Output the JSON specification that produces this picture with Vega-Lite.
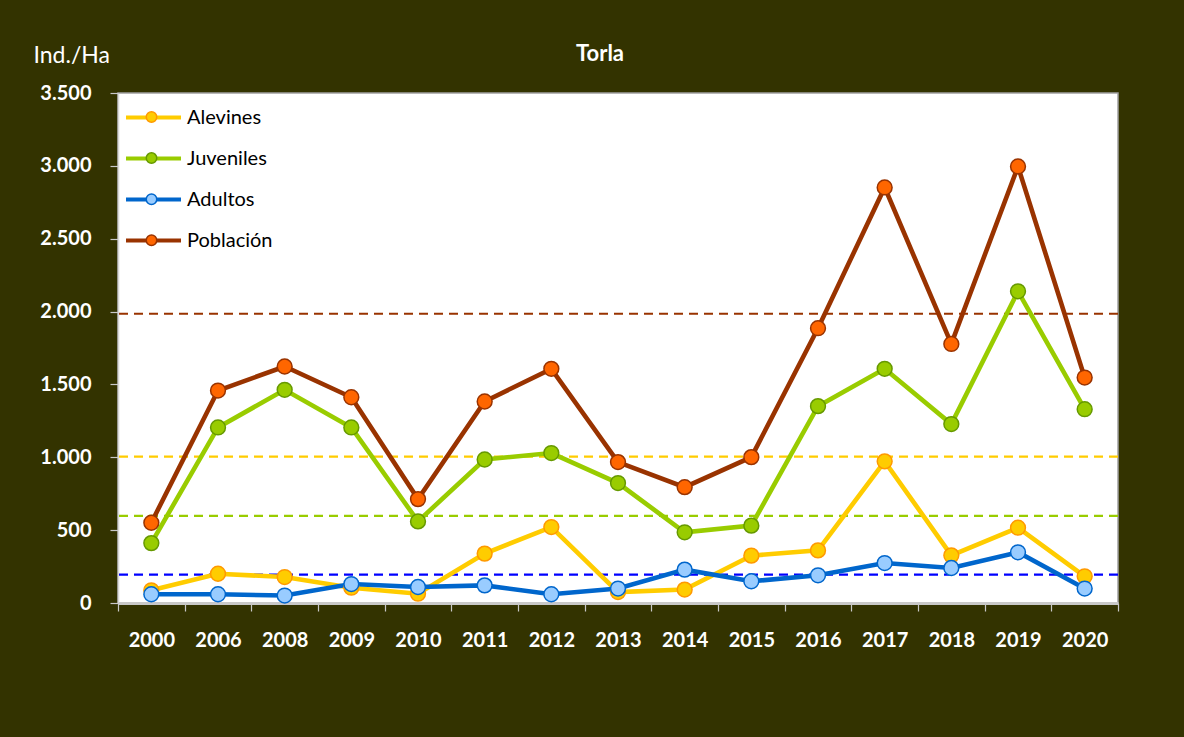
{
  "$schema": "https://vega.github.io/schema/vega-lite/v6.json",
  "autosize": {"type": "none"},
  "width": 1000,
  "height": 510,
  "padding": {"left": 118, "top": 93, "right": 66, "bottom": 134},
  "background": "#333300",
  "config": {
    "font": "Lato",
    "view": {"fill": "white", "stroke": "#A0A0A0", "strokeWidth": 1.5}
  },
  "title": {"text": "Torla", "color": "white", "font": "Lato", "fontSize": 22, "fontWeight": "bold", "anchor": "middle", "dx": -18, "offset": -22},
  "datasets": {
    "series": [
      {"year": "2000", "serie": "Alevines", "value": 87},
      {"year": "2006", "serie": "Alevines", "value": 201},
      {"year": "2008", "serie": "Alevines", "value": 178},
      {"year": "2009", "serie": "Alevines", "value": 105},
      {"year": "2010", "serie": "Alevines", "value": 64},
      {"year": "2011", "serie": "Alevines", "value": 339},
      {"year": "2012", "serie": "Alevines", "value": 521},
      {"year": "2013", "serie": "Alevines", "value": 75},
      {"year": "2014", "serie": "Alevines", "value": 92},
      {"year": "2015", "serie": "Alevines", "value": 325},
      {"year": "2016", "serie": "Alevines", "value": 361},
      {"year": "2017", "serie": "Alevines", "value": 972},
      {"year": "2018", "serie": "Alevines", "value": 327},
      {"year": "2019", "serie": "Alevines", "value": 517},
      {"year": "2020", "serie": "Alevines", "value": 183},
      {"year": "2000", "serie": "Juveniles", "value": 411},
      {"year": "2006", "serie": "Juveniles", "value": 1205},
      {"year": "2008", "serie": "Juveniles", "value": 1463},
      {"year": "2009", "serie": "Juveniles", "value": 1205},
      {"year": "2010", "serie": "Juveniles", "value": 560},
      {"year": "2011", "serie": "Juveniles", "value": 985},
      {"year": "2012", "serie": "Juveniles", "value": 1029},
      {"year": "2013", "serie": "Juveniles", "value": 823},
      {"year": "2014", "serie": "Juveniles", "value": 485},
      {"year": "2015", "serie": "Juveniles", "value": 531},
      {"year": "2016", "serie": "Juveniles", "value": 1351},
      {"year": "2017", "serie": "Juveniles", "value": 1607},
      {"year": "2018", "serie": "Juveniles", "value": 1228},
      {"year": "2019", "serie": "Juveniles", "value": 2139},
      {"year": "2020", "serie": "Juveniles", "value": 1330},
      {"year": "2000", "serie": "Adultos", "value": 60},
      {"year": "2006", "serie": "Adultos", "value": 60},
      {"year": "2008", "serie": "Adultos", "value": 51},
      {"year": "2009", "serie": "Adultos", "value": 130},
      {"year": "2010", "serie": "Adultos", "value": 110},
      {"year": "2011", "serie": "Adultos", "value": 121},
      {"year": "2012", "serie": "Adultos", "value": 60},
      {"year": "2013", "serie": "Adultos", "value": 99},
      {"year": "2014", "serie": "Adultos", "value": 229},
      {"year": "2015", "serie": "Adultos", "value": 149},
      {"year": "2016", "serie": "Adultos", "value": 190},
      {"year": "2017", "serie": "Adultos", "value": 274},
      {"year": "2018", "serie": "Adultos", "value": 240},
      {"year": "2019", "serie": "Adultos", "value": 348},
      {"year": "2020", "serie": "Adultos", "value": 99},
      {"year": "2000", "serie": "Población", "value": 551},
      {"year": "2006", "serie": "Población", "value": 1458},
      {"year": "2008", "serie": "Población", "value": 1623},
      {"year": "2009", "serie": "Población", "value": 1412},
      {"year": "2010", "serie": "Población", "value": 713},
      {"year": "2011", "serie": "Población", "value": 1383},
      {"year": "2012", "serie": "Población", "value": 1607},
      {"year": "2013", "serie": "Población", "value": 967},
      {"year": "2014", "serie": "Población", "value": 795},
      {"year": "2015", "serie": "Población", "value": 1001},
      {"year": "2016", "serie": "Población", "value": 1886},
      {"year": "2017", "serie": "Población", "value": 2852},
      {"year": "2018", "serie": "Población", "value": 1778},
      {"year": "2019", "serie": "Población", "value": 2996},
      {"year": "2020", "serie": "Población", "value": 1547}
    ],
    "refs": [
      {"serie": "Alevines", "ref": 1005},
      {"serie": "Juveniles", "ref": 598},
      {"serie": "Adultos", "ref": 195},
      {"serie": "Población", "ref": 1985}
    ]
  },
  "layer": [
    {
      "data": {"name": "refs"},
      "transform": [{"filter": "datum.serie == 'Población'"}],
      "mark": {"type": "rule", "strokeWidth": 2.2, "strokeDash": [9, 6], "color": "#993300"},
      "encoding": {"y": {"field": "ref", "type": "quantitative", "scale": {"domain": [0, 3500], "nice": false}}}
    },
    {
      "data": {"name": "refs"},
      "transform": [{"filter": "datum.serie == 'Alevines'"}],
      "mark": {"type": "rule", "strokeWidth": 2.2, "strokeDash": [9, 6], "color": "#FFCC00"},
      "encoding": {"y": {"field": "ref", "type": "quantitative"}}
    },
    {
      "data": {"name": "refs"},
      "transform": [{"filter": "datum.serie == 'Juveniles'"}],
      "mark": {"type": "rule", "strokeWidth": 2.2, "strokeDash": [9, 6], "color": "#99CC00"},
      "encoding": {"y": {"field": "ref", "type": "quantitative"}}
    },
    {
      "data": {"name": "refs"},
      "transform": [{"filter": "datum.serie == 'Adultos'"}],
      "mark": {"type": "rule", "strokeWidth": 2.2, "strokeDash": [9, 6], "color": "#0000FF"},
      "encoding": {"y": {"field": "ref", "type": "quantitative"}}
    },
    {
      "data": {"name": "series"},
      "mark": {"type": "line", "strokeWidth": 4.6},
      "encoding": {
        "x": {"field": "year", "type": "ordinal",
          "scale": {"type": "band", "paddingInner": 0, "paddingOuter": 0},
          "axis": {"title": null, "labelAngle": 0, "labelColor": "white", "labelFont": "Lato", "labelFontSize": 20, "labelFontWeight": "bold",
            "tickBand": "extent", "tickColor": "#C8C8C8", "tickSize": 8, "tickWidth": 1.2, "labelPadding": 19,
            "domainColor": "#C8C8C8", "domainWidth": 3}},
        "y": {"field": "value", "type": "quantitative",
          "axis": {"values": [0, 500, 1000, 1500, 2000, 2500, 3000, 3500], "grid": false,
            "labelExpr": "replace(format(datum.value, ','), ',', '.')",
            "labelColor": "white", "labelFont": "Lato", "labelFontSize": 20, "labelFontWeight": "bold", "labelPadding": 19,
            "tickColor": "#C8C8C8", "tickSize": 8, "tickWidth": 1.2, "domainColor": "#D8D8D8", "domainWidth": 1.5,
            "title": "Ind./Ha", "titleAngle": 0, "titleAlign": "left", "titleBaseline": "alphabetic", "titleX": -85, "titleY": -31,
            "titleColor": "white", "titleFont": "Lato", "titleFontSize": 23, "titleFontWeight": "normal"}},
        "color": {"field": "serie", "type": "nominal",
          "scale": {"domain": ["Alevines", "Juveniles", "Adultos", "Población"], "range": ["#FFCC00", "#99CC00", "#0066CC", "#993300"]},
          "legend": {"orient": "none", "legendX": 24, "legendY": 13, "title": null, "padding": 0,
            "symbolType": "M-3,0L3,0", "symbolSize": 336, "symbolStrokeWidth": 4,
            "labelFont": "Lato", "labelFontSize": 20, "labelColor": "black", "labelOffset": 22, "rowPadding": 19}}
      }
    },
    {
      "data": {"name": "series"},
      "mark": {"type": "point", "filled": true, "size": 220, "strokeWidth": 1.5, "opacity": 1},
      "encoding": {
        "x": {"field": "year", "type": "ordinal"},
        "y": {"field": "value", "type": "quantitative"},
        "fill": {"field": "serie", "type": "nominal",
          "sort": ["Alevines", "Juveniles", "Adultos", "Población"],
          "scale": {"range": ["#FFCC00", "#99CC00", "#99CCFF", "#FF6600"]},
          "legend": {"orient": "none", "legendX": 27.5, "legendY": 18, "title": null, "padding": 0,
            "symbolType": "circle", "symbolSize": 110, "symbolStrokeWidth": 1.5, "symbolOpacity": 1,
            "symbolStrokeColor": "transparent",
            "labelExpr": "''", "labelFontSize": 1, "labelOffset": 0, "rowPadding": 23.1}},
        "stroke": {"field": "serie", "type": "nominal",
          "sort": ["Alevines", "Juveniles", "Adultos", "Población"],
          "scale": {"range": ["#FF9900", "#669900", "#0066CC", "#993300"]},
          "legend": {"orient": "none", "legendX": 27.5, "legendY": 18, "title": null, "padding": 0,
            "symbolType": "circle", "symbolSize": 110, "symbolStrokeWidth": 1.5, "symbolOpacity": 1,
            "symbolFillColor": "transparent",
            "labelExpr": "''", "labelFontSize": 1, "labelOffset": 0, "rowPadding": 23.1}}
      }
    }
  ]
}
